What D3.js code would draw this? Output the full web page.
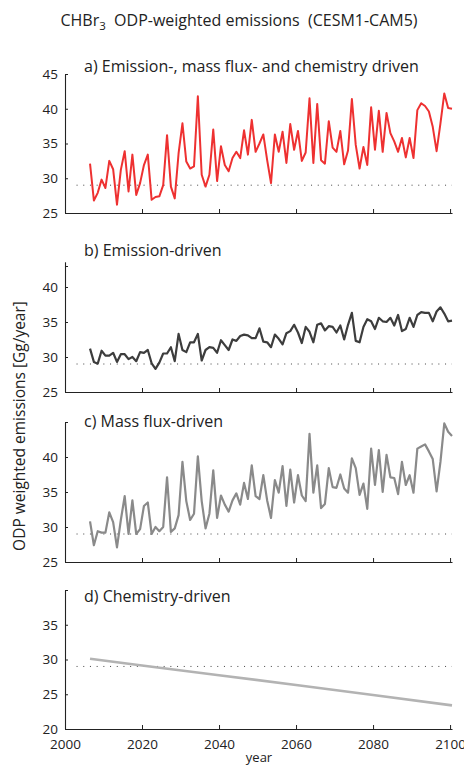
<!DOCTYPE html>
<meta charset="utf-8">
<body style="margin:0;background:#fff">
<script src="https://d3js.org/d3.v7.min.js"></script>
<script>

// annual values, plotted at mid-year
var years = [2006, 2007, 2008, 2009, 2010, 2011, 2012, 2013, 2014, 2015,
             2016, 2017, 2018, 2019, 2020, 2021, 2022, 2023, 2024, 2025,
             2026, 2027, 2028, 2029, 2030, 2031, 2032, 2033, 2034, 2035,
             2036, 2037, 2038, 2039, 2040, 2041, 2042, 2043, 2044, 2045,
             2046, 2047, 2048, 2049, 2050, 2051, 2052, 2053, 2054, 2055,
             2056, 2057, 2058, 2059, 2060, 2061, 2062, 2063, 2064, 2065,
             2066, 2067, 2068, 2069, 2070, 2071, 2072, 2073, 2074, 2075,
             2076, 2077, 2078, 2079, 2080, 2081, 2082, 2083, 2084, 2085,
             2086, 2087, 2088, 2089, 2090, 2091, 2092, 2093, 2094, 2095,
             2096, 2097, 2098, 2099, 2100];

var allDriven = [32.1, 26.8, 27.9, 29.8, 28.6, 32.5, 31.3, 26.2, 31.2, 33.9,
                 28.1, 33.4, 27.6, 29.3, 31.9, 33.4, 26.9, 27.3, 27.4, 29.0,
                 36.2, 28.8, 27.1, 33.6, 37.9, 32.4, 31.4, 31.7, 41.8, 30.5,
                 28.8, 30.5, 37.0, 29.6, 34.6, 31.9, 31.0, 32.9, 33.8, 32.9,
                 36.9, 33.4, 38.4, 33.8, 35.0, 36.3, 32.6, 29.3, 36.3, 33.8,
                 36.7, 32.2, 37.8, 34.1, 36.8, 32.5, 33.7, 41.5, 32.2, 40.7,
                 32.6, 32.1, 38.2, 34.4, 33.8, 36.8, 32.0, 34.0, 41.4, 34.8,
                 31.4, 34.5, 31.9, 40.2, 34.1, 39.7, 33.8, 39.4, 36.5, 35.3,
                 33.8, 35.8, 33.0, 35.8, 32.9, 39.8, 40.8, 40.4, 39.6, 37.4,
                 33.9, 37.9, 42.2, 40.1, 40.0];

var emissionDriven = [31.2, 29.3, 29.05, 30.9, 30.2, 30.2, 30.6, 29.3, 30.4, 30.4,
                      29.7, 30.0, 29.4, 30.7, 30.6, 31.0, 29.1, 28.3, 29.2, 30.5,
                      30.5, 31.4, 29.4, 33.3, 31.0, 30.7, 32.1, 32.1, 33.3, 29.5,
                      31.0, 31.4, 31.3, 30.6, 32.4, 31.7, 31.0, 32.5, 32.3, 33.0,
                      33.2, 33.1, 32.7, 32.7, 34.1, 32.2, 32.1, 31.4, 33.2, 32.6,
                      31.8, 33.4, 33.7, 34.6, 33.5, 32.0, 34.3, 33.6, 32.1, 34.6,
                      34.8, 33.8, 34.4, 34.3, 33.5, 34.5, 32.5, 34.6, 36.3, 32.3,
                      32.1, 34.3, 35.4, 35.1, 34.0, 35.6, 35.1, 35.0, 35.6, 34.5,
                      36.0, 33.7, 34.0, 35.6, 34.3, 36.0, 36.4, 36.3, 36.3, 35.1,
                      36.5, 37.1, 36.2, 35.1, 35.2];

var massFluxDriven = [30.8, 27.4, 29.4, 29.2, 29.2, 32.1, 30.7, 27.1, 31.0, 34.4,
                      29.0, 33.8, 29.0, 29.7, 33.0, 33.5, 29.0, 30.0, 29.4, 30.0,
                      37.1, 29.3, 29.8, 31.7, 39.3, 33.7, 31.0, 31.9, 40.1, 33.7,
                      29.8, 31.9, 38.1, 31.3, 34.5, 33.2, 32.2, 33.8, 34.8, 33.2,
                      36.3, 34.0, 38.8, 34.4, 34.0, 37.4, 33.8, 31.3, 36.7, 34.9,
                      38.7, 33.0, 38.2, 33.5, 37.4, 34.5, 33.7, 43.3, 34.9, 38.8,
                      32.7, 33.3, 38.4, 35.7, 35.6, 37.5, 35.5, 34.9, 39.8, 38.4,
                      34.6, 36.2, 32.6, 41.2, 36.0, 41.0, 35.0, 40.3, 37.1, 37.0,
                      34.7, 39.3, 36.0, 37.4, 34.9, 41.2, 41.5, 41.8, 40.8, 39.7,
                      35.1, 39.3, 44.8, 43.6, 43.0];

var chemYears = [2006, 2020, 2040, 2060, 2080, 2100];
var chemistryDriven = [30.1, 29.1, 27.7, 26.3, 24.85, 23.4];

var refLevel = 29;
var xTicks = [2000, 2020, 2040, 2060, 2080, 2100];

var panels = [
  { title: "a)  Emission-, mass flux- and chemistry driven", xs: years, ys: allDriven,
    color: "#ee3131", sw: 2, dom: [25, 45], top: 74, bottom: 213, ticks: [25, 30, 35, 40, 45], labelTop: true, ty: 72 },
  { title: "b) Emission-driven", xs: years, ys: emissionDriven,
    color: "#3d3d3d", sw: 2.2, dom: [25, 43.6], top: 261.8, bottom: 392, ticks: [25, 30, 35, 40, 43], labelTop: false, ty: 256 },
  { title: "c) Mass flux-driven", xs: years, ys: massFluxDriven,
    color: "#8a8a8a", sw: 2.2, dom: [25, 45], top: 422, bottom: 562, ticks: [25, 30, 35, 40, 45], labelTop: false, ty: 427 },
  { title: "d) Chemistry-driven", xs: chemYears, ys: chemistryDriven,
    color: "#b3b3b3", sw: 2.6, dom: [20, 40], top: 590, bottom: 729, ticks: [20, 25, 30, 35, 40], labelTop: false, ty: 602 }
];

var W = 464, H = 766;
var font = "'Open Sans', sans-serif";
var axisColor = "#222";

var svg = d3.select("body").append("svg")
    .attr("width", W)
    .attr("height", H)
    .style("font-family", font);

var x = d3.scaleLinear().domain([2000, 2100.5]).range([65, 452]);

// main title
var title = svg.append("text")
    .attr("x", 239).attr("y", 26)
    .attr("text-anchor", "middle")
    .attr("font-size", 16)
    .attr("fill", "#222");
title.append("tspan").text("CHBr");
title.append("tspan").attr("dy", 4).attr("font-size", 11.5).text("3");
title.append("tspan").attr("dy", -4).text("\u00a0 ODP-weighted emissions \u00a0(CESM1-CAM5)");

panels.forEach(function (p, i) {
    var y = d3.scaleLinear().domain(p.dom).range([p.bottom, p.top]);
    var g = svg.append("g");

    var yAxis = d3.axisLeft(y)
        .tickValues(p.ticks)
        .tickSizeInner(-3)
        .tickSizeOuter(0)
        .tickPadding(7)
        .tickFormat(function (d, k) {
            return (k === p.ticks.length - 1 && !p.labelTop) ? "" : d;
        });
    g.append("g")
        .attr("transform", "translate(" + x(2000) + ",0)")
        .call(yAxis);

    var xAxis = d3.axisBottom(x)
        .tickValues(xTicks)
        .tickSizeInner(-4)
        .tickSizeOuter(0)
        .tickPadding(i === 3 ? 10 : 4)
        .tickFormat(i === 3 ? d3.format("d") : "");
    g.append("g")
        .attr("transform", "translate(0," + p.bottom + ")")
        .call(xAxis);

    g.selectAll(".domain").attr("stroke", axisColor).attr("stroke-width", 1.1);
    g.selectAll(".tick line").attr("stroke", axisColor);
    g.selectAll(".tick text")
        .attr("font-size", 13.5)
        .attr("font-family", font)
        .attr("fill", "#222");

    // reference level
    g.append("line")
        .attr("x1", x(2003)).attr("x2", x(2100.5))
        .attr("y1", y(refLevel)).attr("y2", y(refLevel))
        .attr("stroke", "#444")
        .attr("stroke-width", 1)
        .attr("stroke-dasharray", "1,5.7");

    var line = d3.line()
        .x(function (d, k) { return x(p.xs[k] + 0.5); })
        .y(function (d) { return y(d); });

    g.append("path")
        .datum(p.ys)
        .attr("d", line)
        .attr("fill", "none")
        .attr("stroke", p.color)
        .attr("stroke-width", p.sw)
        .attr("stroke-linejoin", "round");

    g.append("text")
        .attr("x", 84).attr("y", p.ty)
        .attr("font-size", 16)
        .attr("fill", "#222")
        .text(p.title);
});

// axis labels
svg.append("text")
    .attr("transform", "translate(25,426) rotate(-90)")
    .attr("text-anchor", "middle")
    .attr("font-size", 15.5)
    .attr("fill", "#222")
    .text("ODP weighted emissions [Gg/year]");

svg.append("text")
    .attr("x", 259).attr("y", 762)
    .attr("text-anchor", "middle")
    .attr("font-size", 13)
    .attr("fill", "#222")
    .text("year");

</script>
</body>
